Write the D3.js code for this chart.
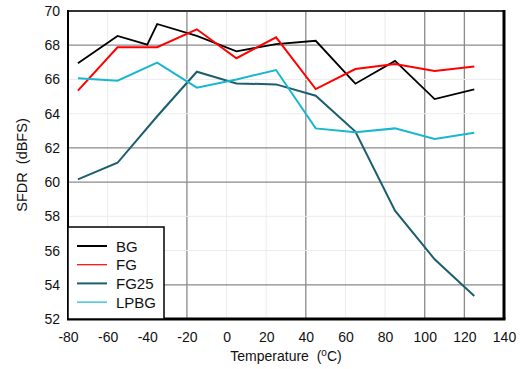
<!DOCTYPE html>
<html>
<head>
<meta charset="utf-8">
<script src="https://cdn.jsdelivr.net/npm/d3@7"></script>
<style>
  html, body { margin: 0; padding: 0; background: #fff; }
  svg { display: block; font-family: "Liberation Sans", Arial, sans-serif; }
  text { white-space: pre; }
</style>
</head>
<body>
<svg id="chart" width="523" height="369"></svg>
<script>
// ---- data ----
const bgTemp   = [-75, -55, -40, -35, -15, 5, 25, 45, 65, 85, 105, 125];
const bgVals   = [66.95, 68.54, 68.03, 69.24, 68.55, 67.64, 68.07, 68.26, 65.75, 67.08, 64.85, 65.42];
const temps    = [-75, -55, -35, -15, 5, 25, 45, 65, 85, 105, 125];
const fgVals   = [65.35, 67.88, 67.88, 68.93, 67.24, 68.46, 65.44, 66.61, 66.90, 66.49, 66.75];
const fg25Vals = [60.16, 61.13, 63.85, 66.45, 65.77, 65.71, 65.05, 62.95, 58.33, 55.49, 53.35];
const lpbgVals = [66.07, 65.93, 66.98, 65.52, 66.00, 66.55, 63.14, 62.91, 63.14, 62.52, 62.89];
const seriesNames = ["BG", "FG", "FG25", "LPBG"];
const xTicks = [-80, -60, -40, -20, 0, 20, 40, 60, 80, 100, 120, 140];
const yTicks = [52, 54, 56, 58, 60, 62, 64, 66, 68, 70];
const xMajorGrid = [-20, 40, 100, 120];
const yMajorGrid = [54, 60, 62, 68];

const colors = { BG: "#000000", FG: "#ff0000", FG25: "#1b5e6e", LPBG: "#19b6d0" };
const series = [
  { name: "BG",   x: bgTemp, y: bgVals },
  { name: "FG",   x: temps,  y: fgVals },
  { name: "FG25", x: temps,  y: fg25Vals },
  { name: "LPBG", x: temps,  y: lpbgVals }
];

const L = 68, R = 504, T = 11, B = 319;
const svg = d3.select("#chart");
const x = d3.scaleLinear().domain([-80, 140]).range([L, R]);
const y = d3.scaleLinear().domain([52, 70]).range([B, T]);

// grid
const grid = svg.append("g");
xTicks.filter(t => t > -80 && t < 140).forEach(t => {
  const major = xMajorGrid.includes(t);
  grid.append("line").attr("x1", x(t)).attr("x2", x(t)).attr("y1", T).attr("y2", B)
    .attr("stroke", major ? "#8a8a8a" : "#ececec").attr("stroke-width", major ? 1.3 : 1);
});
yTicks.filter(t => t > 52 && t < 70).forEach(t => {
  const major = yMajorGrid.includes(t);
  grid.append("line").attr("x1", L).attr("x2", R).attr("y1", y(t)).attr("y2", y(t))
    .attr("stroke", major ? "#8a8a8a" : "#ececec").attr("stroke-width", major ? 1.3 : 1);
});

// lines
const line = d3.line().x(d => x(d[0])).y(d => y(d[1]));
series.forEach(s => {
  svg.append("path")
    .datum(s.x.map((v, i) => [v, s.y[i]]))
    .attr("fill", "none")
    .attr("stroke", colors[s.name])
    .attr("stroke-width", s.name === "BG" ? 1.8 : 2)
    .attr("stroke-linejoin", "miter")
    .attr("d", line);
});

// frame
svg.append("line").attr("x1", L).attr("x2", R).attr("y1", T).attr("y2", T).attr("stroke", "#333").attr("stroke-width", 2);
svg.append("line").attr("x1", L).attr("x2", L).attr("y1", T - 1).attr("y2", B).attr("stroke", "#000").attr("stroke-width", 2);
svg.append("line").attr("x1", L - 1).attr("x2", R + 1.5).attr("y1", B).attr("y2", B).attr("stroke", "#000").attr("stroke-width", 3);
svg.append("line").attr("x1", R).attr("x2", R).attr("y1", T - 1).attr("y2", B).attr("stroke", "#000").attr("stroke-width", 3);

// axes (labels only)
const fmt = d => String(d);
const xAxis = d3.axisBottom(x).tickValues(xTicks).tickSize(0).tickPadding(13).tickFormat(fmt);
const gx = svg.append("g").attr("transform", `translate(0,${B})`).call(xAxis);
gx.select(".domain").remove();
gx.selectAll("text").attr("font-size", 14).attr("fill", "#111").attr("font-family", "Liberation Sans, Arial, sans-serif");

const yAxis = d3.axisLeft(y).tickValues(yTicks).tickSize(0).tickPadding(8).tickFormat(fmt);
const gy = svg.append("g").attr("transform", `translate(${L},0)`).call(yAxis);
gy.select(".domain").remove();
gy.selectAll("text").attr("font-size", 14).attr("fill", "#111").attr("font-family", "Liberation Sans, Arial, sans-serif");

// axis titles
const xt = svg.append("text").attr("x", (L + R) / 2).attr("y", 361).attr("text-anchor", "middle")
  .attr("font-size", 14).attr("fill", "#111");
xt.append("tspan").text("Temperature  (");
xt.append("tspan").attr("font-size", 10).attr("dy", -5).text("o");
xt.append("tspan").attr("dy", 5).text("C)");

svg.append("text").attr("transform", `translate(27,${(T + B) / 2}) rotate(-90)`)
  .attr("text-anchor", "middle").attr("font-size", 14.5).attr("fill", "#111")
  .text("SFDR  (dBFS)");

// legend
const lg = svg.append("g");
lg.append("rect").attr("x", L).attr("y", 227).attr("width", 96).attr("height", B - 227)
  .attr("fill", "#fff").attr("stroke", "#000").attr("stroke-width", 1.5);
seriesNames.forEach((n, i) => {
  const yy = 246 + i * 18.7;
  lg.append("line").attr("x1", 77).attr("x2", 107).attr("y1", yy).attr("y2", yy)
    .attr("stroke", colors[n]).attr("stroke-width", n === "FG" || n === "LPBG" ? 1.2 : 2);
  lg.append("text").attr("x", 116).attr("y", yy + 5.5).attr("font-size", 15).attr("fill", "#111").text(n);
});
</script>
</body>
</html>
